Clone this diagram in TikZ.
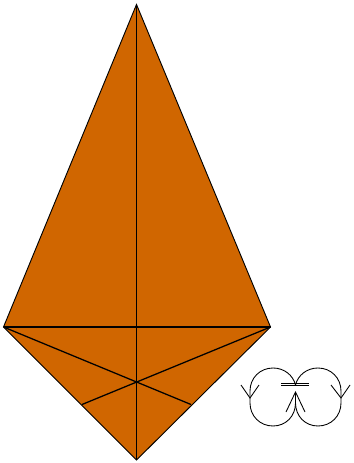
\documentclass[tikz,border=0pt]{standalone}
\usetikzlibrary{calc}
\definecolor{kiteOrange}{RGB}{208,102,0}
\tikzset{
  kiteedge/.style={black, line width=0.95pt},
  outline/.style={black, line width=0.7pt},
  loopedge/.style={black, line width=0.65pt},
}

\begin{document}
\begin{tikzpicture}[x=0.75pt, y=-0.75pt]
  \useasboundingbox (0,0) rectangle (353,463);
  % kite corners
  \coordinate (top) at (136.5,4.5);
  \coordinate (left) at (3.5,327);
  \coordinate (right) at (270.5,327);
  \coordinate (bottom) at (136.5,460);
  \coordinate (footL) at (82,404.5);
  \coordinate (footR) at (191,404.5);
  \fill[kiteOrange] (top) -- (right) -- (bottom) -- (left) -- cycle;
  \draw[outline] (top) -- (right) -- (bottom) -- (left) -- cycle;
  \draw[kiteedge] (top) -- (bottom);
  \draw[kiteedge] (left) -- (right);
  \draw[kiteedge] (left) -- (footR);
  \draw[kiteedge] (right) -- (footL);
  % loops
  \coordinate (upper) at (295.5,385);
  \coordinate (joint) at (295.5,392);
  \draw[loopedge] (upper)
    .. controls (293,375) and (284,368) .. (273,368)
    .. controls (260,368) and (250,378) .. (250,391)
    -- (250,403)
    .. controls (250,416) and (260,426) .. (273,426)
    .. controls (286,426) and (295.5,416) .. (295.5,403) -- (joint);
  \draw[loopedge] (upper)
    .. controls (298,375) and (307,368) .. (318,368)
    .. controls (331,368) and (341,378) .. (341,391)
    -- (341,403)
    .. controls (341,416) and (331,426) .. (318,426)
    .. controls (305,426) and (295.5,416) .. (295.5,403) -- (joint);
  % arrow strokes
  \draw[loopedge] (241,385) -- (250,398) -- (259,385);
  \draw[loopedge] (331,385) -- (341,398) -- (350,385);
  \draw[loopedge] (286,412) -- (joint) -- (305,412);
  \draw[loopedge] (281,383.5) -- (309,383.5);
  \draw[loopedge] (281,385.8) -- (309,385.8);
\end{tikzpicture}
\end{document}
